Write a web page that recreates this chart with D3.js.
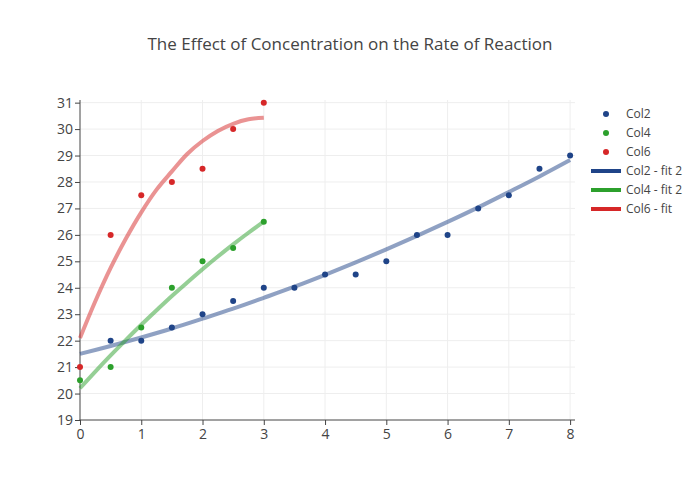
<!DOCTYPE html>
<html><head><meta charset="utf-8">
<script src="https://cdn.jsdelivr.net/npm/d3@7"></script>
<style>body{margin:0;background:#fff;} svg{font-family:"Open Sans",sans-serif;}</style>
</head><body><svg id="c" width="700" height="500"></svg>
<script>
const col2X = [0.5,1,1.5,2,2.5,3,3.5,4,4.5,5,5.5,6,6.5,7,7.5,8];
const col2Y = [22,22,22.5,23,23.5,24,24,24.5,24.5,25,26,26,27,27.5,28.5,29];
const col4X = [0,0.5,1,1.5,2,2.5,3];
const col4Y = [20.5,21,22.5,24,25,25.5,26.5];
const col6X = [0,0.5,1,1.5,2,2.5,3];
const col6Y = [21,26,27.5,28,28.5,30,31];
const fit2X = [0,0.5,1,1.5,2,2.5,3,3.5,4,4.5,5,5.5,6,6.5,7,7.5,8];
const fit2Y = [21.5,21.8,22.12,22.46,22.83,23.21,23.62,24.04,24.49,24.96,25.45,25.96,26.49,27.04,27.62,28.21,28.83];
const fit4X = [0,0.25,0.5,0.75,1,1.25,1.5,1.75,2,2.25,2.5,2.75,3];
const fit4Y = [20.2,20.83,21.44,22.03,22.6,23.15,23.69,24.2,24.7,25.18,25.64,26.08,26.5];
const fit6X = [0,0.25,0.5,0.75,1,1.25,1.5,1.75,2,2.25,2.5,2.75,3];
const fit6Y = [22.1,23.49,24.75,25.86,26.85,27.71,28.4,29.06,29.55,29.93,30.2,30.37,30.43];
const xTicks = [0,1,2,3,4,5,6,7,8];
const yTicks = [19,20,21,22,23,24,25,26,27,28,29,30,31];
const legendNames = ["Col2","Col4","Col6","Col2 - fit 2","Col4 - fit 2","Col6 - fit"];
const colors = {blue:"#1f4488", green:"#2ca02c", red:"#d62728"};

const svg = d3.select("#c");
const L=80,R=575,T=100,B=420;
const x = d3.scaleLinear().domain([0,8.08]).range([L,R]);
const y = d3.scaleLinear().domain([19,31.1]).range([B,T]);

// grid
svg.append("g").selectAll("line").data(xTicks.slice(1)).join("line")
  .attr("x1",d=>x(d)).attr("x2",d=>x(d)).attr("y1",T).attr("y2",B)
  .attr("stroke","#eee").attr("stroke-width",1);
svg.append("g").selectAll("line").data(yTicks.slice(1)).join("line")
  .attr("x1",L).attr("x2",R).attr("y1",d=>y(d)).attr("y2",d=>y(d))
  .attr("stroke","#eee").attr("stroke-width",1);

// axes
const xa = svg.append("g").attr("transform",`translate(0,${B})`)
  .call(d3.axisBottom(x).tickValues(xTicks).tickSize(5).tickPadding(4).tickSizeOuter(0));
const ya = svg.append("g").attr("transform",`translate(${L},0)`)
  .call(d3.axisLeft(y).tickValues(yTicks).tickSize(5).tickPadding(2).tickSizeOuter(0));
[xa,ya].forEach(a=>{
  a.select(".domain").attr("stroke","#444");
  a.selectAll(".tick line").attr("stroke","#444");
  a.selectAll("text").attr("fill","#444").style("font-size","14px").style("font-family","'Open Sans',sans-serif");
});
xa.select(".domain").attr("d",`M${L-0.5},0H${R}`);
ya.select(".domain").attr("d",`M0,${B}V${T}`);

// fit lines
const line = d3.line().x(d=>x(d[0])).y(d=>y(d[1])).curve(d3.curveCatmullRom);
const fits = [[fit2X,fit2Y,colors.blue],[fit4X,fit4Y,colors.green],[fit6X,fit6Y,colors.red]];
fits.forEach(([xs,ys,c])=>{
  svg.append("path").datum(xs.map((v,i)=>[v,ys[i]])).attr("d",line)
    .attr("fill","none").attr("stroke",c).attr("stroke-width",4).attr("opacity",0.5);
});

// points
const pts = [[col2X,col2Y,colors.blue],[col4X,col4Y,colors.green],[col6X,col6Y,colors.red]];
pts.forEach(([xs,ys,c])=>{
  svg.append("g").selectAll("circle").data(xs.map((v,i)=>[v,ys[i]])).join("circle")
    .attr("cx",d=>x(d[0])).attr("cy",d=>y(d[1])).attr("r",3).attr("fill",c);
});

// title
svg.append("text").attr("x",350).attr("y",50).attr("text-anchor","middle")
  .attr("fill","#444").style("font-size","17px").text("The Effect of Concentration on the Rate of Reaction");

// legend
const lc = [colors.blue,colors.green,colors.red,colors.blue,colors.green,colors.red];
const lg = svg.append("g");
legendNames.forEach((n,i)=>{
  const yy = 114 + i*19;
  if(i<3){
    lg.append("circle").attr("cx",606).attr("cy",yy).attr("r",3).attr("fill",lc[i]);
  } else {
    lg.append("line").attr("x1",591).attr("x2",621).attr("y1",yy).attr("y2",yy)
      .attr("stroke",lc[i]).attr("stroke-width",4);
  }
  lg.append("text").attr("x",626).attr("y",yy+4).attr("fill","#444")
    .style("font-size","12px").text(n);
});
</script></body></html>
